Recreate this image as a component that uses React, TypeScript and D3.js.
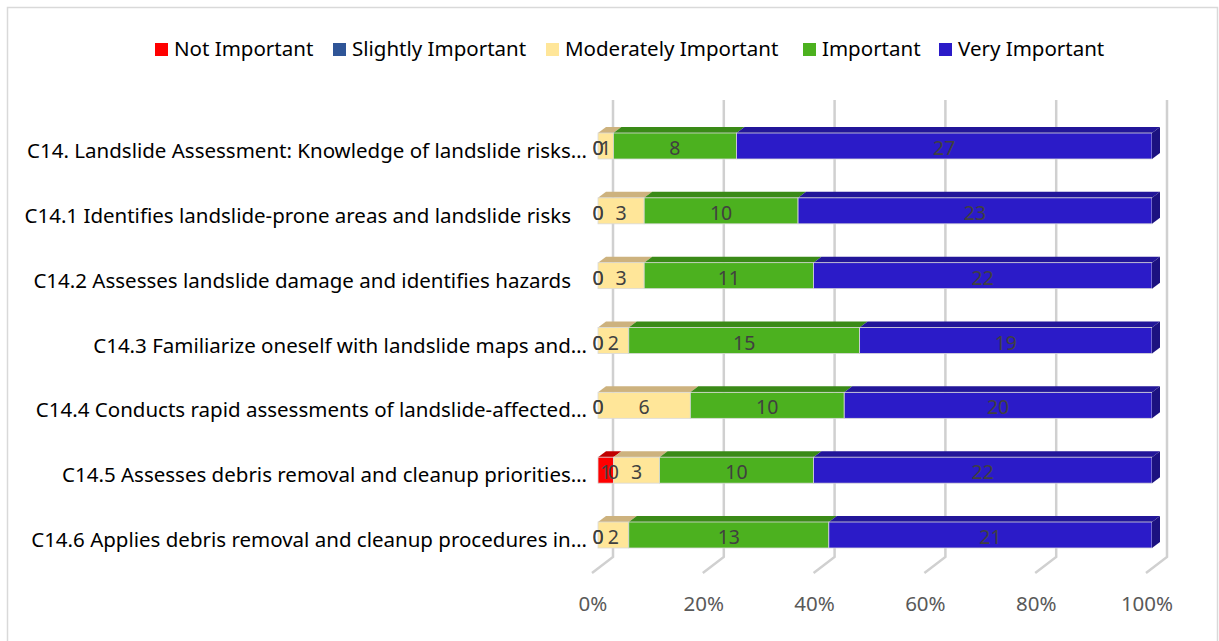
import React from 'react';
import * as d3 from 'd3';

const categories = [
  'C14. Landslide Assessment: Knowledge of landslide risks…',
  'C14.1 Identifies landslide-prone areas and landslide risks   ',
  'C14.2 Assesses landslide damage and identifies hazards   ',
  'C14.3 Familiarize oneself with landslide maps and…',
  'C14.4 Conducts rapid assessments of landslide-affected…',
  'C14.5 Assesses debris removal and cleanup priorities…',
  'C14.6 Applies debris removal and cleanup procedures in…',
];
const seriesNames = ['Not Important', 'Slightly Important', 'Moderately Important', 'Important', 'Very Important'];
const notImportant = [0, 0, 0, 0, 0, 1, 0];
const slightlyImportant = [0, 0, 0, 0, 0, 0, 0];
const moderatelyImportant = [1, 3, 3, 2, 6, 3, 2];
const important = [8, 10, 11, 15, 10, 10, 13];
const veryImportant = [27, 23, 22, 19, 20, 22, 21];
const tickValues = [0, 0.2, 0.4, 0.6, 0.8, 1];
const tickLabels = ['0%', '20%', '40%', '60%', '80%', '100%'];

const frontColors = ['#FF0000', '#2F5597', '#FFE699', '#4CB11F', '#2B1BC8'];
const topColors = ['#C00000', '#223F70', '#CDB27E', '#3A8A17', '#221699'];
const sideColors = ['#A00000', '#1C335C', '#B89F6A', '#2F7012', '#1C1280'];

const FONT = '"Noto Sans", "Open Sans", sans-serif';

export default function App() {
  const rows = categories.map((c, i) => ({
    cat: c,
    'Not Important': notImportant[i],
    'Slightly Important': slightlyImportant[i],
    'Moderately Important': moderatelyImportant[i],
    'Important': important[i],
    'Very Important': veryImportant[i],
  }));
  const stack = d3.stack<any>().keys(seriesNames).offset(d3.stackOffsetExpand);
  const series = stack(rows);

  const xFront = d3.scaleLinear().domain([0, 1]).range([598, 1152]);
  const backDx = 15;
  const floorDx = -6;
  const depthX = 8, depthY = -6;
  const yC = d3.scalePoint<string>().domain(categories).range([146, 535]);
  const barH = 26;
  const gridTop = 100, gridBottom = 557;

  return (
    <svg width={1219} height={641} style={{ position: 'absolute', left: 0, top: 0 }}>
      <rect x={0} y={0} width={1219} height={641} fill="#fff" />
      <rect x={7.5} y={7.5} width={1210} height={660} fill="none" stroke="#D9D9D9" strokeWidth={1.5} />
      {/* legend */}
      {(() => {
        const pos = [155, 333, 546, 803, 939];
        return seriesNames.map((s, i) => (
          <g key={s}>
            <rect x={pos[i]} y={43} width={13} height={13} fill={frontColors[i]} />
            <text x={pos[i] + 19} y={56} fontFamily={FONT} fontSize={20.5} fill="#000">{s}</text>
          </g>
        ));
      })()}
      {/* gridlines on back wall + floor */}
      {tickValues.map((t, i) => {
        const bx = xFront(t) + backDx;
        const fx = xFront(t) + floorDx;
        return (
          <g key={i}>
            <path d={`M${bx},${gridTop} L${bx},${gridBottom} L${fx},${gridBottom + 16}`} fill="none" stroke="#D0D0D0" strokeWidth={2.5} />
            <text x={fx + 1} y={611} textAnchor="middle" fontFamily={FONT} fontSize={20.5} fill="#595959">{tickLabels[i]}</text>
          </g>
        );
      })}
      {/* category labels */}
      {categories.map((c) => (
        <text key={c} x={587} y={(yC(c) as number) + 12} textAnchor="end" fontFamily={FONT} fontSize={20.5} fill="#000" style={{ whiteSpace: 'pre' }}>{c}</text>
      ))}
      {/* bars */}
      {categories.map((c, ri) => {
        const yc = yC(c) as number;
        const yt = yc - barH / 2;
        const yb = yc + barH / 2;
        const segs = series.map((s, si) => ({ si, x0: xFront(s[ri][0]), x1: xFront(s[ri][1]), v: (rows[ri] as any)[seriesNames[si]] }));
        const last = segs.filter((d) => d.x1 - d.x0 > 0.01).slice(-1)[0];
        return (
          <g key={c}>
            {segs.filter((d) => d.x1 - d.x0 > 0.01).map((d) => (
              <g key={d.si}>
                <polygon points={`${d.x0},${yt} ${d.x1},${yt} ${d.x1 + depthX},${yt + depthY} ${d.x0 + depthX},${yt + depthY}`} fill={topColors[d.si]} />
                <rect x={d.x0} y={yt} width={d.x1 - d.x0} height={barH} fill={frontColors[d.si]} stroke="#D9D9D9" strokeWidth={0.8} />
              </g>
            ))}
            {last && (
              <polygon points={`${last.x1},${yt} ${last.x1 + depthX},${yt + depthY} ${last.x1 + depthX},${yb + depthY} ${last.x1},${yb}`} fill={sideColors[last.si]} />
            )}
            {segs.map((d) => (
              <text key={'l' + d.si} x={(d.x0 + d.x1) / 2} y={yc + 9} textAnchor="middle" fontFamily={FONT} fontSize={19.5} fill="#404040">{d.v}</text>
            ))}
          </g>
        );
      })}
    </svg>
  );
}
